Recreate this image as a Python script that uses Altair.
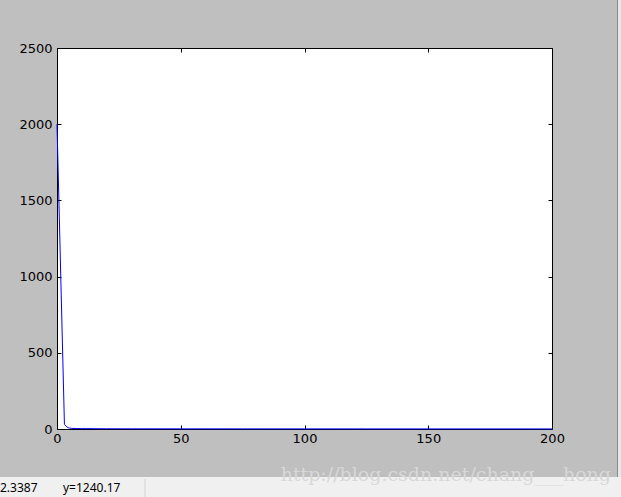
import altair as alt
import pandas as pd

# ---- data ----
iters = [0, 3, 4, 5, 6, 8, 10, 15, 20, 30, 50, 75, 100, 125, 150, 175, 200]
loss = [2000, 30, 13, 6, 4, 3, 2.5, 2, 1.5, 1.2, 1.0, 0.8, 0.7, 0.6, 0.5, 0.5, 0.4]
x_ticks = [0, 50, 100, 150, 200]
y_ticks = [0, 500, 1000, 1500, 2000, 2500]
status_x = "2.3387"
status_y = "y=1240.17"
watermark = "http://blog.csdn.net/chang___hong"

W, H = 495, 381
PL, PT = 57, 48
df = pd.DataFrame({"iter": iters, "loss": loss})
one = pd.DataFrame({"k": [0]})

xs = alt.Scale(domain=[0, 200], nice=False, zero=False)
ys = alt.Scale(domain=[0, 2500], nice=False)

common = dict(offset=-4, tickSize=4, tickColor="black", tickWidth=1,
              domain=False, grid=False, labelFont="DejaVu Sans",
              labelFontSize=13, labelColor="black", title=None,
              labelFlush=False, labelOverlap=False, format="d")

line = alt.Chart(df).mark_line(color="#0000ff", strokeWidth=1).encode(
    x=alt.X("iter:Q", scale=xs,
            axis=alt.Axis(orient="bottom", values=x_ticks, labelPadding=3, **common)),
    y=alt.Y("loss:Q", scale=ys,
            axis=alt.Axis(orient="left", values=y_ticks, labelPadding=5, **common)),
)

mirror = alt.Chart(df).mark_line(opacity=0).encode(
    x=alt.X("iter:Q", scale=xs,
            axis=alt.Axis(orient="top", values=x_ticks, labels=False, **common)),
    y=alt.Y("loss:Q", scale=ys,
            axis=alt.Axis(orient="right", values=y_ticks, labels=False, **common)),
)

# ---- window decorations (status bar, watermark, window edge) ----
base = alt.Chart(one)
status_bar = base.mark_rect(color="#f0f0f0").encode(
    x=alt.value(-PL), x2=alt.value(621 - PL),
    y=alt.value(477 - PT), y2=alt.value(497 - PT))
separator = base.mark_rule(color="#d4d4d4").encode(
    x=alt.value(145 - PL), y=alt.value(479 - PT), y2=alt.value(497 - PT))
edge_dark = base.mark_rect(color="#8a8a8a").encode(
    x=alt.value(617 - PL), x2=alt.value(618 - PL),
    y=alt.value(-PT), y2=alt.value(477 - PT))
edge_light = base.mark_rect(color="#e4e8ec").encode(
    x=alt.value(618 - PL), x2=alt.value(621 - PL),
    y=alt.value(-PT), y2=alt.value(477 - PT))
txt_x = base.mark_text(text=status_x, align="left", baseline="middle",
                       font="Noto Sans", fontSize=12, color="black").encode(
    x=alt.value(0 - PL), y=alt.value(488 - PT))
txt_y = base.mark_text(text=status_y, align="left", baseline="middle",
                       font="Noto Sans", fontSize=12, color="black").encode(
    x=alt.value(63 - PL), y=alt.value(488 - PT))
wm = base.mark_text(text=watermark, align="right", baseline="alphabetic",
                    font="DejaVu Serif", fontSize=19, color="#d8d8d8").encode(
    x=alt.value(611 - PL), y=alt.value(481 - PT))

chart = alt.layer(
    status_bar, separator, edge_dark, edge_light, txt_x, txt_y, wm, line, mirror
).resolve_axis(x="independent", y="independent").properties(
    width=W, height=H,
    autosize=alt.AutoSizeParams(type="none"),
    padding={"left": PL, "top": PT, "right": 621 - PL - W, "bottom": 497 - PT - H},
    background="#bfbfbf",
).configure_view(fill="white", stroke="black", strokeWidth=1)

chart.save("out.html", embed_options={"renderer": "svg", "actions": False})
